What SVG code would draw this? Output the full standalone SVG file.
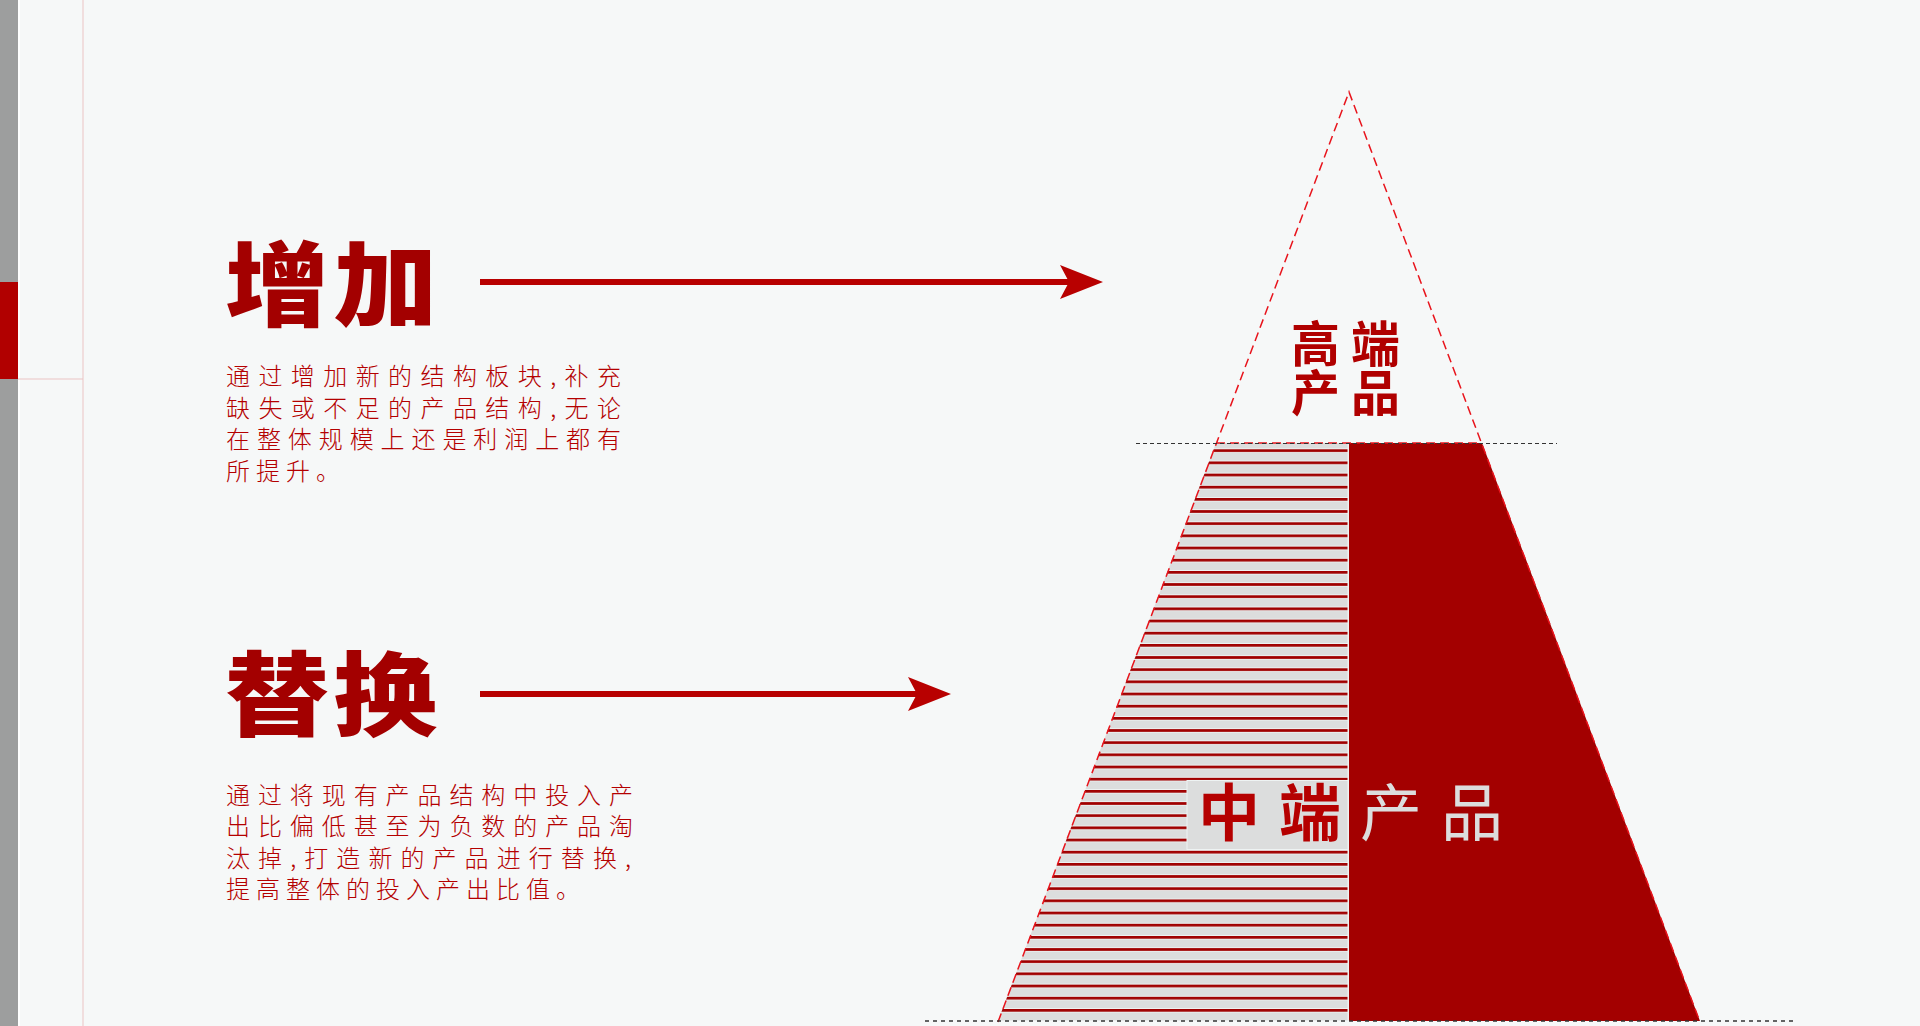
<svg xmlns="http://www.w3.org/2000/svg" width="1920" height="1026" viewBox="0 0 1920 1026">
<defs>
<style>
.title{font-family:"Noto Sans CJK SC","Noto Sans",sans-serif;font-weight:900;font-size:92px;fill:#a30000;letter-spacing:4px}
.body{font-family:"Noto Sans CJK SC","Noto Sans",sans-serif;font-weight:300;font-size:24px;fill:#b40000}
.last{letter-spacing:6px}
.conn{stroke:#b80000;stroke-width:6;fill:none}
.tri{stroke:#e8141c;stroke-width:1.5;fill:none;stroke-dasharray:9 5}
.guide{stroke:#333;fill:none}
</style>
<marker id="ah" markerUnits="userSpaceOnUse" viewBox="0 -18 43 36" markerWidth="43" markerHeight="36" refX="9" refY="0" orient="auto">
<path d="M0,-17 L43,0 L0,17 L9,0 Z" fill="#b80000"/>
</marker>
<pattern id="stripes" patternUnits="userSpaceOnUse" x="0" y="449.3" width="100" height="12.1667">
<rect x="0" y="0" width="100" height="12.1667" fill="#f2f6f6"/>
<rect x="0" y="-0.2" width="100" height="2.9" fill="#a00000"/>
<rect x="0" y="3.4" width="100" height="8" fill="#dcdddd"/>
</pattern>
</defs>
<rect width="1920" height="1026" fill="#f6f8f8"/>
<g id="sidebar">
<rect x="0" y="0" width="18" height="1026" fill="#9d9e9e"/>
<rect x="0" y="282" width="18" height="97" fill="#b10000"/>
<rect x="18" y="0" width="2" height="1026" fill="#ffffff"/>
<line x1="83" y1="0" x2="83" y2="1026" stroke="#ebc4c4" stroke-width="1"/>
<line x1="18" y1="379" x2="83" y2="379" stroke="#ebc4c4" stroke-width="1"/>
</g>
<g id="node-zengjia">
<text class="title" transform="translate(225,319) scale(1.13,1)" x="0" y="0">增加</text>
<text class="body" x="226" y="385" textLength="395" lengthAdjust="spacing">通过增加新的结构板块,补充</text>
<text class="body" x="226" y="416.7" textLength="395" lengthAdjust="spacing">缺失或不足的产品结构,无论</text>
<text class="body" x="226" y="448.3" textLength="395" lengthAdjust="spacing">在整体规模上还是利润上都有</text>
<text class="body last" x="226" y="480">所提升。</text>
</g>
<g id="node-tihuan">
<text class="title" transform="translate(225,729) scale(1.13,1)" x="0" y="0">替换</text>
<text class="body" x="226" y="803.5" textLength="407" lengthAdjust="spacing">通过将现有产品结构中投入产</text>
<text class="body" x="226" y="835" textLength="407" lengthAdjust="spacing">出比偏低甚至为负数的产品淘</text>
<text class="body" x="226" y="866.7" textLength="405" lengthAdjust="spacing">汰掉,打造新的产品进行替换,</text>
<text class="body last" x="226" y="898.3">提高整体的投入产出比值。</text>
</g>
<g id="node-mid">
<polygon points="1216,443 1349,443 1349,1021 998,1021" fill="url(#stripes)"/>
<rect x="1347.5" y="443" width="1.5" height="578" fill="#eef2f2"/>
<polygon points="1349,443 1482,443 1700,1021 1349,1021" fill="#a30000"/>
<rect x="1187" y="780.5" width="161" height="69" fill="#dcdddd" stroke="#eef3f3" stroke-width="1"/>
<text x="1198" y="836" font-family="'Noto Sans CJK SC','Noto Sans',sans-serif" font-size="62" style="letter-spacing:19px"><tspan font-weight="700" fill="#b50000">中端</tspan><tspan font-weight="400" fill="#dcdddd">产品</tspan></text>
</g>
<g id="node-top">
<text font-family="'Noto Sans CJK SC','Noto Sans',sans-serif" font-size="49" font-weight="700" fill="#b00000" style="letter-spacing:11px">
<tspan x="1291" y="362">高端</tspan>
<tspan x="1291" y="411">产品</tspan>
</text>
</g>
<g id="guides">
<line class="tri" x1="1216" y1="443" x2="1482" y2="443"/>
<path class="tri" d="M998,1022 L1349,92 L1700,1022"/>
<line class="guide" x1="1136" y1="443.5" x2="1557" y2="443.5" stroke-width="1" stroke-dasharray="4 3"/>
<line class="guide" x1="925" y1="1021" x2="1793" y2="1021" stroke-width="1.6" stroke-dasharray="4 4"/>
</g>
<g id="connectors">
<line class="conn" x1="480" y1="282" x2="1069" y2="282" marker-end="url(#ah)"/>
<line class="conn" x1="480" y1="694" x2="917" y2="694" marker-end="url(#ah)"/>
</g>
</svg>
